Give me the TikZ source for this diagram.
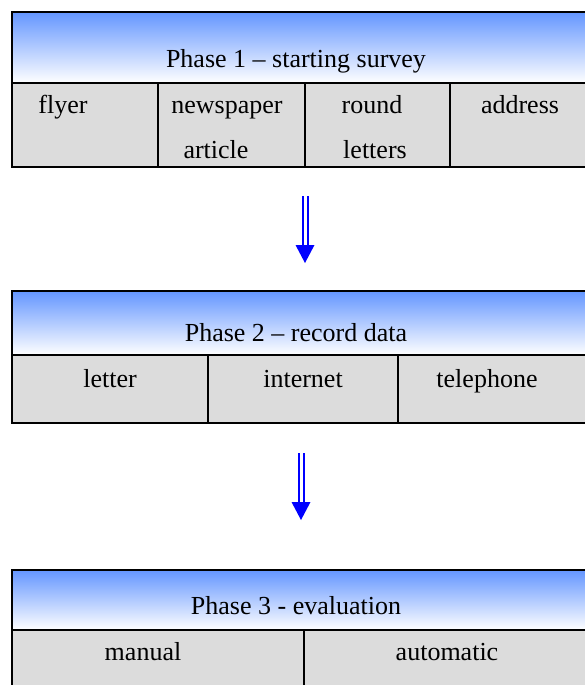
\documentclass[tikz,border=0pt]{standalone}
\usepackage{fontspec}
\setmainfont{Liberation Serif}
\usetikzlibrary{calc}
\definecolor{hdrblue}{RGB}{100,150,255}
\definecolor{cellgray}{RGB}{220,220,220}
\begin{document}
\begin{tikzpicture}[x=1pt,y=-1pt,
  hdr/.style={draw=black, line width=1.5pt, top color=hdrblue, bottom color=white, inner sep=0pt, outer sep=0pt, anchor=north west},
  cell/.style={draw=black, line width=1.5pt, fill=cellgray, inner sep=0pt, outer sep=0pt, anchor=north west},
  lbl/.style={font=\fontsize{26}{30}\selectfont, inner sep=0pt, text height=18pt, text depth=0pt, anchor=center},
  shaft/.style={draw=blue, line width=2pt, double=white, double distance=3pt},
  head/.style={fill=blue}]
\useasboundingbox (0,0) rectangle (585,685);
\clip (0,0) rectangle (585,685);
% Phase 1
\node[hdr, minimum width=588pt, minimum height=71pt] (h1) at (12,12) {};
\node[cell, minimum width=146pt, minimum height=84pt] (c11) at (12,83) {};
\node[cell, minimum width=147pt, minimum height=84pt] (c12) at (158,83) {};
\node[cell, minimum width=145pt, minimum height=84pt] (c13) at (305,83) {};
\node[cell, minimum width=150pt, minimum height=84pt] (c14) at (450,83) {};
\node[lbl] (t1) at (296,58) {Phase 1 – starting survey};
\node[lbl] (l11) at (63,104) {flyer};
\node[lbl] (l12a) at (227,104) {newspaper};
\node[lbl] (l12b) at (216,149) {article};
\node[lbl] (l13a) at (372,104) {round};
\node[lbl] (l13b) at (375,149) {letters};
\node[lbl] (l14) at (520,104) {address};
% arrow 1
\coordinate (a1s) at (305,196);
\coordinate (a1e) at (305,263);
\draw[shaft] (a1s) -- ($(a1e)+(0,-18)$);
\fill[head] ($(a1e)+(-9.5,-18)$) -- (a1e) -- ($(a1e)+(9.5,-18)$) -- cycle;
% Phase 2
\node[hdr, minimum width=588pt, minimum height=64pt] (h2) at (12,291) {};
\node[cell, minimum width=196pt, minimum height=68pt] (c21) at (12,355) {};
\node[cell, minimum width=190pt, minimum height=68pt] (c22) at (208,355) {};
\node[cell, minimum width=202pt, minimum height=68pt] (c23) at (398,355) {};
\node[lbl] (t2) at (296,332) {Phase 2 – record data};
\node[lbl] (l21) at (110,378) {letter};
\node[lbl] (l22) at (303,378) {internet};
\node[lbl] (l23) at (487,378) {telephone};
% arrow 2
\coordinate (a2s) at (301,453);
\coordinate (a2e) at (301,520);
\draw[shaft] (a2s) -- ($(a2e)+(0,-18)$);
\fill[head] ($(a2e)+(-9.5,-18)$) -- (a2e) -- ($(a2e)+(9.5,-18)$) -- cycle;
% Phase 3
\node[hdr, minimum width=588pt, minimum height=60pt] (h3) at (12,570) {};
\node[cell, minimum width=292pt, minimum height=80pt] (c31) at (12,630) {};
\node[cell, minimum width=296pt, minimum height=80pt] (c32) at (304,630) {};
\node[lbl] (t3) at (296,605) {Phase 3 - evaluation};
\node[lbl] (l31) at (143,651) {manual};
\node[lbl] (l32) at (447,651) {automatic};
\end{tikzpicture}
\end{document}
